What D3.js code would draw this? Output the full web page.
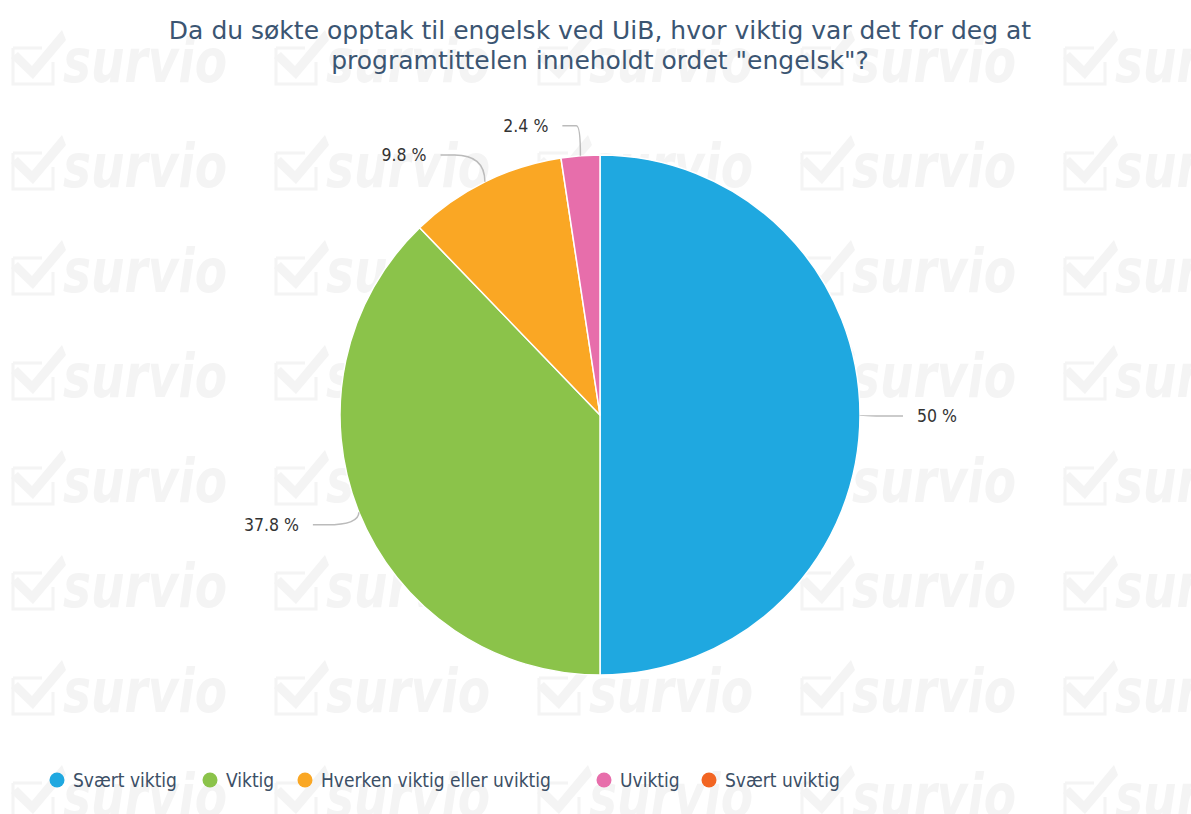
<!DOCTYPE html>
<html>
<head>
<meta charset="utf-8">
<script src="https://cdn.jsdelivr.net/npm/d3@7"></script>
<style>
  body { margin: 0; background: #fff; }
  svg { display: block; }
</style>
</head>
<body>
<div id="chart"></div>
<script>
const categories = ["Svært viktig", "Viktig", "Hverken viktig eller uviktig", "Uviktig", "Svært uviktig"];
const values = [50, 37.8, 9.8, 2.4, 0];
const colors = ["#1fa8e0", "#8bc34a", "#faa724", "#e76eab", "#f26522"];
const titleLines = ["Da du søkte opptak til engelsk ved UiB, hvor viktig var det for deg at",
                    "programtittelen inneholdt ordet \"engelsk\"?"];

const width = 1191, height = 814;
const cx = 600, cy = 415, r = 260;

const svg = d3.select("#chart").append("svg")
    .attr("width", width)
    .attr("height", height);

// watermark tiles
const wm = svg.append("g").attr("fill", "#f4f4f4");
for (let row = 0; row < 8; row++) {
  for (let col = 0; col < 5; col++) {
    const g = wm.append("g").attr("transform", `translate(${12 + col * 263},${82 + row * 105})`);
    g.append("path")
      .attr("d", "M1,-34 L30,-34 M1,-34 L1,2 L41,2 L41,-20")
      .attr("fill", "none").attr("stroke", "#f4f4f4").attr("stroke-width", 3);
    g.append("path")
      .attr("d", "M-1,-24 L6,-30 L20,-16 L50,-52 L54,-42 L21,-3 Z");
    g.append("text")
      .attr("x", 51).attr("y", 0)
      .attr("font-family", "DejaVu Sans Condensed")
      .attr("font-weight", "bold").attr("font-style", "italic")
      .attr("font-size", 60)
      .attr("textLength", 164).attr("lengthAdjust", "spacingAndGlyphs")
      .text("survio");
  }
}

// title
svg.append("text")
    .attr("text-anchor", "middle")
    .attr("font-family", "DejaVu Sans")
    .attr("font-size", 25)
    .attr("fill", "#3b5572")
  .selectAll("tspan")
  .data(titleLines)
  .join("tspan")
    .attr("x", cx)
    .attr("y", (d, i) => 39 + i * 30)
    .text(d => d);

const data = categories.map((c, i) => ({name: c, value: values[i], color: colors[i]}));

const pie = d3.pie().sort(null).value(d => d.value);
const arcs = pie(data);
const arc = d3.arc().innerRadius(0).outerRadius(r);

const gp = svg.append("g").attr("transform", `translate(${cx},${cy})`);

gp.selectAll("path.slice")
  .data(arcs.filter(d => d.data.value > 0))
  .join("path")
    .attr("class", "slice")
    .attr("d", arc)
    .attr("fill", d => d.data.color)
    .attr("stroke", "#fff")
    .attr("stroke-width", 1.5)
    .attr("stroke-linejoin", "round");

// labels with connectors
const labelled = arcs.filter(d => d.data.value > 0).map(d => {
  const a = (d.startAngle + d.endAngle) / 2;
  const s = Math.sin(a), c = Math.cos(a);
  const as = Math.abs(s);
  const side = s >= 0 ? 1 : -1;
  const ex = r * s, ey = -r * c;
  const ly = -(r + 31) * c + 1;
  const lx = side * ((r + 43) * as + (80 * as + 10) * (1 - as));
  return {d, ex, ey, lx, ly, side};
});

gp.selectAll("path.conn")
  .data(labelled)
  .join("path")
    .attr("class", "conn")
    .attr("fill", "none")
    .attr("stroke", "#bbb")
    .attr("stroke-width", 1.5)
    .attr("d", p => {
      const bx = p.lx - p.side * 14;
      return `M${p.lx},${p.ly} L${bx},${p.ly} Q${p.ex},${p.ly} ${p.ex},${p.ey}`;
    });

gp.selectAll("text.lbl")
  .data(labelled)
  .join("text")
    .attr("class", "lbl")
    .attr("x", p => p.lx + p.side * 14)
    .attr("y", p => p.ly)
    .attr("dy", "0.36em")
    .attr("text-anchor", p => p.side > 0 ? "start" : "end")
    .attr("font-family", "DejaVu Sans Condensed")
    .attr("font-size", 17.5)
    .attr("fill", "#333")
    .text(p => `${p.d.data.value} %`);

// legend
const legendX = [57, 210, 305, 604, 709];
const lg = svg.append("g").selectAll("g")
  .data(data)
  .join("g")
    .attr("transform", (d, i) => `translate(${legendX[i]},780)`);
lg.append("circle").attr("r", 7.5).attr("fill", d => d.color);
lg.append("text")
    .attr("x", 16)
    .attr("dy", "0.36em")
    .attr("font-family", "DejaVu Sans Condensed")
    .attr("font-size", 19)
    .attr("fill", "#3c4f66")
    .text(d => d.name);
</script>
</body>
</html>
